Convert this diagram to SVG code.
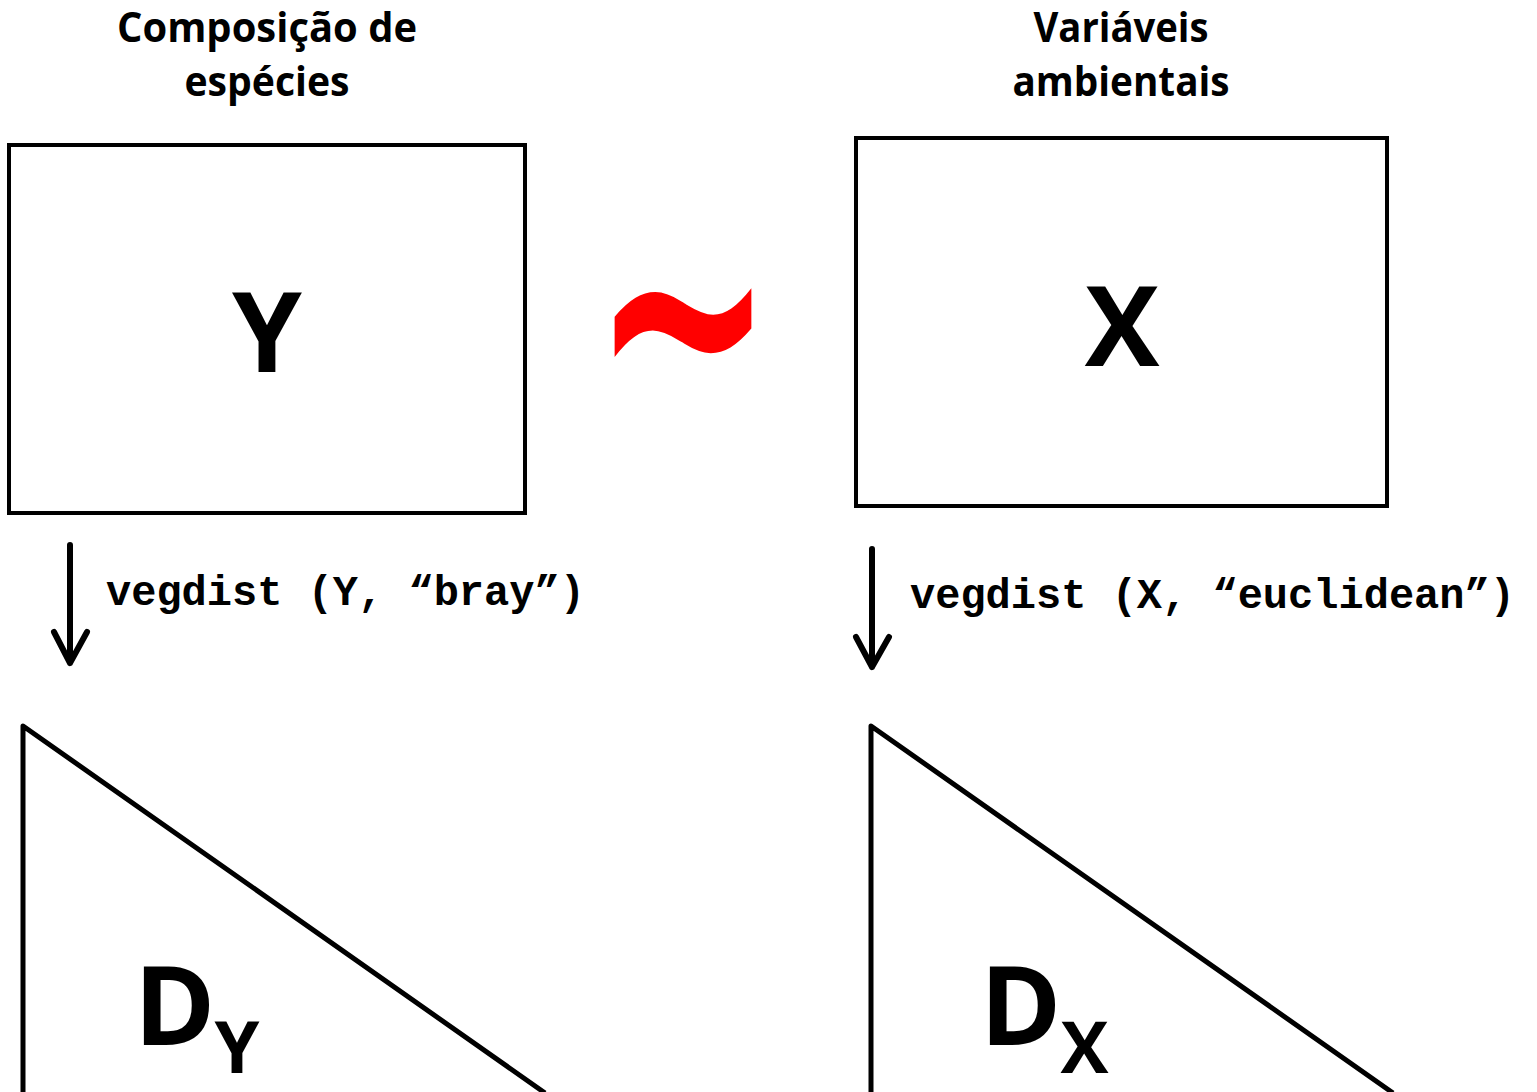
<svg xmlns="http://www.w3.org/2000/svg" width="1537" height="1092" viewBox="0 0 1537 1092">
<style>
.title{font-family:"Open Sans","Noto Sans",sans-serif;font-weight:bold;font-size:42px;fill:#000;text-anchor:middle}
.big{font-family:"Open Sans","Noto Sans",sans-serif;font-weight:bold;font-size:112px;fill:#000;text-anchor:middle}
.dlab{font-family:"Open Sans","Noto Sans",sans-serif;font-weight:bold;font-size:110px;fill:#000}
.code{font-family:"Liberation Mono","Courier New",monospace;font-weight:bold;font-size:42px;fill:#000}
.box{fill:#fff;stroke:#000;stroke-width:4}
.tri{fill:#fff;stroke:#000;stroke-width:5;stroke-linejoin:round}
.conn{fill:none;stroke:#000;stroke-width:6;stroke-linecap:round;stroke-linejoin:round}
</style>
<rect width="1537" height="1092" fill="#fff"/>
<g id="title-y">
<text class="title" x="267" y="42" textLength="300" lengthAdjust="spacingAndGlyphs">Composição de</text>
<text class="title" x="267" y="96" textLength="165" lengthAdjust="spacingAndGlyphs">espécies</text>
</g>
<g id="title-x">
<text class="title" x="1121" y="42" textLength="175" lengthAdjust="spacingAndGlyphs">Variáveis</text>
<text class="title" x="1121" y="96" textLength="217" lengthAdjust="spacingAndGlyphs">ambientais</text>
</g>
<g id="node-Y">
<rect class="box" x="9" y="145" width="516" height="368"/>
<text class="big" x="267" y="372">Y</text>
</g>
<g id="tilde">
<text transform="translate(683,322) scale(0.84,1.3) translate(-683,-338)" x="683" y="420" font-family="DejaVu Sans, sans-serif" font-weight="bold" font-size="260" fill="#ff0000" text-anchor="middle">~</text>
</g>
<g id="node-X">
<rect class="box" x="856" y="138" width="531" height="368"/>
<text class="big" x="1122" y="366">X</text>
</g>
<g id="node-DY">
<path class="tri" d="M23,1093 L23,726 L545,1093"/>
<text class="dlab" x="134" y="1045">D<tspan font-size="72" dx="-1" dy="28">Y</tspan></text>
</g>
<g id="node-DX">
<path class="tri" d="M871,1093 L871,726 L1393,1093"/>
<text class="dlab" x="980" y="1045">D<tspan font-size="72" dx="-1" dy="28">X</tspan></text>
</g>
<g id="connectors">
<path class="conn" d="M70,545 L70,663 M54,632 L70,663 L87,632"/>
<path class="conn" d="M872,549 L872,667 M856,637 L872,667 L889,637"/>
<text class="code" x="106" y="605">vegdist (Y, “bray”)</text>
<text class="code" x="910" y="608">vegdist (X, “euclidean”)</text>
</g>
</svg>
